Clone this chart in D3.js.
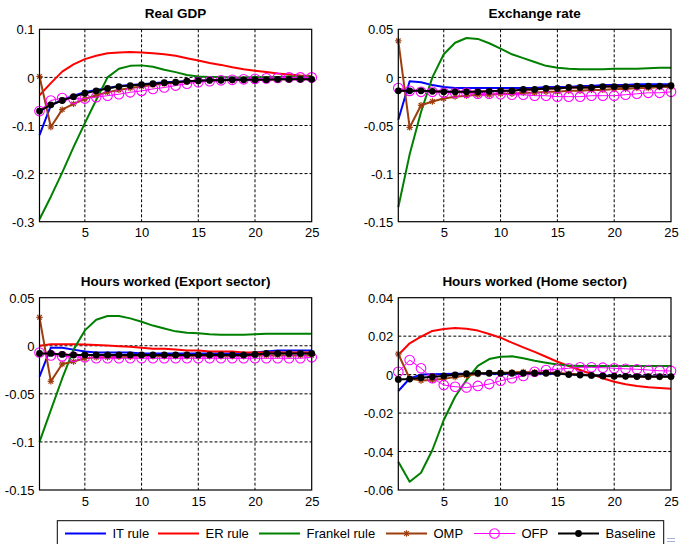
<!DOCTYPE html>
<html>
<head>
<meta charset="utf-8">
<script src="https://cdn.jsdelivr.net/npm/d3@7"></script>
<style>
  body { margin: 0; background: #fff; }
  svg { display: block; font-family: "Liberation Sans", Arial, sans-serif; }
  .tick-label { font-size: 13px; fill: #000; }
  .panel-title { font-size: 13.5px; font-weight: bold; fill: #000; }
  .legend-text { font-size: 13px; fill: #000; }
</style>
</head>
<body>
<svg id="chart"></svg>
<script>
// 数据：期数 1..25
const periods = d3.range(1, 26);
const seriesNames = ["IT rule", "ER rule", "Frankel rule", "OMP", "OFP", "Baseline"];
const xTicks = [5, 10, 15, 20, 25];

// Real GDP
const gdpIT = [-0.12, -0.058, -0.047, -0.038, -0.031, -0.026, -0.022, -0.018, -0.016, -0.014, -0.012, -0.010, -0.009, -0.008, -0.007, -0.006, -0.005, -0.005, -0.004, -0.004, -0.004, -0.003, -0.003, -0.003, -0.003];
const gdpER = [-0.037, -0.012, 0.012, 0.027, 0.038, 0.045, 0.05, 0.052, 0.053, 0.052, 0.05, 0.048, 0.045, 0.04, 0.035, 0.03, 0.026, 0.021, 0.017, 0.014, 0.011, 0.008, 0.006, 0.004, 0.003];
const gdpFrankel = [-0.295, -0.248, -0.198, -0.145, -0.095, -0.047, 0.0, 0.018, 0.024, 0.025, 0.022, 0.016, 0.011, 0.005, 0.002, 0.001, 0.001, 0.0, 0.0, 0.001, 0.001, 0.001, 0.002, 0.002, 0.002];
const gdpOMP = [0.002, -0.103, -0.067, -0.055, -0.045, -0.037, -0.031, -0.026, -0.022, -0.019, -0.016, -0.013, -0.011, -0.009, -0.008, -0.007, -0.006, -0.006, -0.005, -0.005, -0.005, -0.004, -0.004, -0.004, -0.004];
const gdpOFP = [-0.07, -0.048, -0.043, -0.045, -0.044, -0.041, -0.038, -0.035, -0.031, -0.028, -0.024, -0.021, -0.017, -0.013, -0.010, -0.008, -0.006, -0.005, -0.004, -0.003, -0.002, -0.001, 0.0, 0.0, 0.0];
const gdpBase = [-0.07, -0.057, -0.048, -0.040, -0.033, -0.028, -0.023, -0.019, -0.017, -0.015, -0.013, -0.011, -0.010, -0.008, -0.007, -0.006, -0.006, -0.005, -0.005, -0.005, -0.005, -0.004, -0.004, -0.004, -0.004];

// Exchange rate
const exIT = [-0.044, -0.004, -0.005, -0.008, -0.010, -0.011, -0.011, -0.011, -0.011, -0.011, -0.011, -0.011, -0.011, -0.010, -0.010, -0.010, -0.009, -0.009, -0.008, -0.008, -0.008, -0.007, -0.007, -0.007, -0.007];
const exER = [-0.014, -0.014, -0.014, -0.0145, -0.015, -0.015, -0.015, -0.015, -0.0145, -0.014, -0.014, -0.0125, -0.0125, -0.0115, -0.0115, -0.0105, -0.0105, -0.0105, -0.0095, -0.0095, -0.0095, -0.009, -0.009, -0.009, -0.0085];
const exFrankel = [-0.135, -0.08, -0.036, 0.0, 0.024, 0.036, 0.041, 0.040, 0.0355, 0.030, 0.024, 0.020, 0.016, 0.012, 0.010, 0.009, 0.0085, 0.0085, 0.0085, 0.009, 0.009, 0.009, 0.0095, 0.010, 0.010];
const exOMP = [0.038, -0.052, -0.029, -0.025, -0.022, -0.020, -0.019, -0.018, -0.018, -0.017, -0.017, -0.016, -0.016, -0.015, -0.015, -0.014, -0.014, -0.013, -0.013, -0.012, -0.012, -0.011, -0.011, -0.010, -0.010];
const exOFP = [-0.011, -0.014, -0.015, -0.015, -0.016, -0.016, -0.016, -0.017, -0.017, -0.0175, -0.018, -0.018, -0.019, -0.019, -0.020, -0.020, -0.020, -0.019, -0.019, -0.019, -0.018, -0.017, -0.016, -0.016, -0.015];
const exBase = [-0.014, -0.014, -0.014, -0.0145, -0.015, -0.015, -0.015, -0.015, -0.0145, -0.014, -0.014, -0.0125, -0.0125, -0.0115, -0.0115, -0.0105, -0.0105, -0.0105, -0.0095, -0.0095, -0.0095, -0.009, -0.009, -0.009, -0.0085];

// Hours worked (Export sector)
const hxIT = [-0.032, -0.002, -0.002, -0.004, -0.006, -0.007, -0.007, -0.007, -0.007, -0.008, -0.008, -0.008, -0.008, -0.008, -0.008, -0.008, -0.008, -0.008, -0.008, -0.007, -0.006, -0.005, -0.005, -0.005, -0.005];
const hxER = [0.0, 0.0015, 0.0015, 0.0015, 0.0012, 0.0008, 0.0002, -0.0005, -0.001, -0.002, -0.003, -0.003, -0.004, -0.005, -0.005, -0.006, -0.006, -0.006, -0.007, -0.007, -0.007, -0.007, -0.007, -0.007, -0.007];
const hxFrankel = [-0.1, -0.067, -0.034, -0.004, 0.016, 0.027, 0.031, 0.031, 0.0285, 0.025, 0.021, 0.018, 0.015, 0.0135, 0.013, 0.012, 0.0115, 0.0115, 0.0115, 0.012, 0.0125, 0.0125, 0.0125, 0.0125, 0.0125];
const hxOMP = [0.0296, -0.037, -0.019, -0.0165, -0.013, -0.012, -0.012, -0.0115, -0.0115, -0.011, -0.011, -0.011, -0.011, -0.011, -0.011, -0.011, -0.011, -0.011, -0.011, -0.01, -0.01, -0.01, -0.01, -0.01, -0.01];
const hxOFP = [-0.007, -0.010, -0.011, -0.0115, -0.012, -0.013, -0.013, -0.013, -0.013, -0.013, -0.013, -0.013, -0.013, -0.013, -0.013, -0.013, -0.013, -0.013, -0.013, -0.013, -0.013, -0.013, -0.013, -0.013, -0.012];
const hxBase = [-0.008, -0.008, -0.009, -0.0095, -0.0095, -0.0095, -0.0095, -0.0095, -0.0095, -0.0095, -0.0095, -0.0095, -0.0095, -0.0095, -0.0095, -0.0095, -0.0095, -0.0095, -0.0095, -0.009, -0.008, -0.008, -0.008, -0.008, -0.008];

// Hours worked (Home sector)
const hhIT = [-0.0085, -0.002, 0.0, 0.0002, 0.0003, 0.0004, 0.0005, 0.0005, 0.0005, 0.0005, 0.0005, 0.0005, 0.0005, 0.0005, 0.0005, 0.0003, 0.0, -0.0003, -0.0005, -0.0007, -0.0008, -0.0009, -0.001, -0.001, -0.001];
const hhER = [0.0102, 0.0163, 0.0197, 0.0227, 0.0237, 0.0242, 0.0238, 0.0229, 0.0211, 0.0192, 0.0166, 0.0142, 0.0118, 0.0093, 0.0067, 0.0045, 0.0024, 0.0003, -0.0019, -0.0037, -0.005, -0.0059, -0.0066, -0.0069, -0.0073];
const hhFrankel = [-0.0453, -0.0557, -0.051, -0.0392, -0.0236, -0.0115, -0.0028, 0.0045, 0.0081, 0.0093, 0.0095, 0.0085, 0.0072, 0.0062, 0.0053, 0.0048, 0.0045, 0.0045, 0.0045, 0.0045, 0.0045, 0.0045, 0.0045, 0.0045, 0.0045];
const hhOMP = [0.0107, -0.002, -0.0031, -0.0028, -0.0022, -0.0013, -0.0005, 0.0003, 0.0008, 0.001, 0.0012, 0.0014, 0.0012, 0.001, 0.0008, 0.0004, 0.0, -0.0004, -0.0007, -0.0009, -0.001, -0.0011, -0.0012, -0.0012, -0.0012];
const hhOFP = [0.0015, 0.0076, 0.0033, -0.0019, -0.0054, -0.0063, -0.0067, -0.0059, -0.0049, -0.0032, -0.0019, -0.0007, 0.0015, 0.0024, 0.0028, 0.0033, 0.0038, 0.0038, 0.0036, 0.0033, 0.003, 0.0028, 0.0024, 0.002, 0.0019];
const hhBase = [-0.0025, -0.0023, -0.0016, -0.0011, -0.0007, -0.0001, 0.0005, 0.0007, 0.0007, 0.0007, 0.0007, 0.0007, 0.0007, 0.0007, 0.0006, 0.0, -0.0002, -0.0004, -0.0007, -0.0008, -0.0009, -0.001, -0.001, -0.001, -0.001];

// 刻度
const gdpTicks = [0.1, 0, -0.1, -0.2, -0.3];
const gdpTickLabels = ["0.1", "0", "-0.1", "-0.2", "-0.3"];
const smallTicks = [0.05, 0, -0.05, -0.1, -0.15];
const smallTickLabels = ["0.05", "0", "-0.05", "-0.1", "-0.15"];
const homeTicks = [0.04, 0.02, 0, -0.02, -0.04, -0.06];
const homeTickLabels = ["0.04", "0.02", "0", "-0.02", "-0.04", "-0.06"];

// 样式
const colors = ["#0000ff", "#ff0000", "#008000", "#9e3d0e", "#ff00ff", "#000000"];
const widths = [2, 2, 2, 2, 1, 2];

const panels = [
  { title: "Real GDP", x0: 39.5, x1: 311.7, y0: 29.3, y1: 221.7, ticks: gdpTicks, labels: gdpTickLabels,
    series: [gdpIT, gdpER, gdpFrankel, gdpOMP, gdpOFP, gdpBase] },
  { title: "Exchange rate", x0: 398.3, x1: 671, y0: 29.3, y1: 221.7, ticks: smallTicks, labels: smallTickLabels,
    series: [exIT, exER, exFrankel, exOMP, exOFP, exBase] },
  { title: "Hours worked (Export sector)", x0: 39.5, x1: 311.7, y0: 297.7, y1: 490, ticks: smallTicks, labels: smallTickLabels,
    series: [hxIT, hxER, hxFrankel, hxOMP, hxOFP, hxBase] },
  { title: "Hours worked (Home sector)", x0: 398.3, x1: 671, y0: 297.7, y1: 490, ticks: homeTicks, labels: homeTickLabels,
    series: [hhIT, hhER, hhFrankel, hhOMP, hhOFP, hhBase] }
];

const svg = d3.select("#chart").attr("width", 680).attr("height", 544);

// 星号标记
function star(g, cx, cy, color) {
  const r = 3.2, d = 2.3;
  const p = g.append("g").attr("stroke", color).attr("stroke-width", 1.2);
  p.append("line").attr("x1", cx - r).attr("x2", cx + r).attr("y1", cy).attr("y2", cy);
  p.append("line").attr("x1", cx).attr("x2", cx).attr("y1", cy - r).attr("y2", cy + r);
  p.append("line").attr("x1", cx - d).attr("x2", cx + d).attr("y1", cy - d).attr("y2", cy + d);
  p.append("line").attr("x1", cx - d).attr("x2", cx + d).attr("y1", cy + d).attr("y2", cy - d);
}

function drawMarkers(g, i, pts) {
  if (i === 3) {
    pts.forEach((p) => star(g, p[0], p[1], colors[3]));
  } else if (i === 4) {
    g.selectAll(null).data(pts).enter().append("circle")
      .attr("cx", (p) => p[0]).attr("cy", (p) => p[1]).attr("r", 4.8)
      .attr("fill", "none").attr("stroke", colors[4]).attr("stroke-width", 1.1);
  } else if (i === 5) {
    g.selectAll(null).data(pts).enter().append("circle")
      .attr("cx", (p) => p[0]).attr("cy", (p) => p[1]).attr("r", 3.4)
      .attr("fill", "#000");
  }
}

panels.forEach((pn) => {
  const x = d3.scaleLinear().domain([1, 25]).range([pn.x0, pn.x1]);
  const y = d3.scaleLinear().domain([pn.ticks[pn.ticks.length - 1], pn.ticks[0]]).range([pn.y1, pn.y0]);
  const g = svg.append("g");

  // 网格线
  const grid = g.append("g").attr("stroke", "#000").attr("stroke-width", 1).attr("stroke-dasharray", "3,2");
  xTicks.slice(0, -1).forEach((t) => {
    grid.append("line").attr("x1", x(t)).attr("x2", x(t)).attr("y1", pn.y0).attr("y2", pn.y1);
  });
  pn.ticks.slice(1, -1).forEach((t) => {
    grid.append("line").attr("x1", pn.x0).attr("x2", pn.x1).attr("y1", y(t)).attr("y2", y(t));
  });

  // 坐标轴标签
  const xAxis = d3.axisBottom(x).tickValues(xTicks).tickSize(0).tickPadding(0);
  const xa = g.append("g").attr("transform", `translate(0,${pn.y1})`).call(xAxis);
  xa.select(".domain").remove();
  xa.selectAll("text").attr("class", "tick-label").attr("dy", null).attr("y", 15.5).style("font-size", null).attr("fill", null);

  const yAxis = d3.axisLeft(y).tickValues(pn.ticks).tickSize(0).tickPadding(0)
    .tickFormat((d, i) => pn.labels[i]);
  const ya = g.append("g").attr("transform", `translate(${pn.x0 - 5},0)`).call(yAxis);
  ya.select(".domain").remove();
  ya.selectAll("text").attr("class", "tick-label").attr("dy", "0.36em").attr("fill", null);
  ya.attr("font-size", null).attr("font-family", null);
  xa.attr("font-size", null).attr("font-family", null);

  // 曲线
  const line = d3.line().x((d, i) => x(periods[i])).y((d) => y(d));
  pn.series.forEach((vals, i) => {
    g.append("path").attr("d", line(vals)).attr("fill", "none")
      .attr("stroke", colors[i]).attr("stroke-width", widths[i]).attr("stroke-linejoin", "round");
    drawMarkers(g, i, vals.map((v, k) => [x(periods[k]), y(v)]));
  });

  // 边框
  g.append("rect").attr("x", pn.x0).attr("y", pn.y0)
    .attr("width", pn.x1 - pn.x0).attr("height", pn.y1 - pn.y0)
    .attr("fill", "none").attr("stroke", "#000").attr("stroke-width", 1.2);

  // 标题
  g.append("text").attr("class", "panel-title").attr("text-anchor", "middle")
    .attr("x", (pn.x0 + pn.x1) / 2).attr("y", pn.y0 - 11.5).text(pn.title);
});

// 图例
const legendX = [65, 158, 259, 386, 474, 558];
const lg = svg.append("g");
lg.append("rect").attr("x", 57.3).attr("y", 520.7).attr("width", 606.4).attr("height", 40)
  .attr("fill", "#fff").attr("stroke", "#000").attr("stroke-width", 1);
const ly = 533.5;
seriesNames.forEach((name, i) => {
  const x0 = legendX[i];
  lg.append("line").attr("x1", x0).attr("x2", x0 + 41).attr("y1", ly).attr("y2", ly)
    .attr("stroke", colors[i]).attr("stroke-width", widths[i]);
  drawMarkers(lg, i, [[x0 + 20.5, ly]]);
  lg.append("text").attr("class", "legend-text").attr("x", x0 + 47.5).attr("y", ly).attr("dy", "0.36em").text(name);
});

// 右下角小标记
lg.append("line").attr("x1", 667).attr("x2", 675).attr("y1", 538.5).attr("y2", 538.5).attr("stroke", "#a8b0e0").attr("stroke-width", 1);
lg.append("line").attr("x1", 667).attr("x2", 675).attr("y1", 541.5).attr("y2", 541.5).attr("stroke", "#a8b0e0").attr("stroke-width", 1);
</script>
</body>
</html>
